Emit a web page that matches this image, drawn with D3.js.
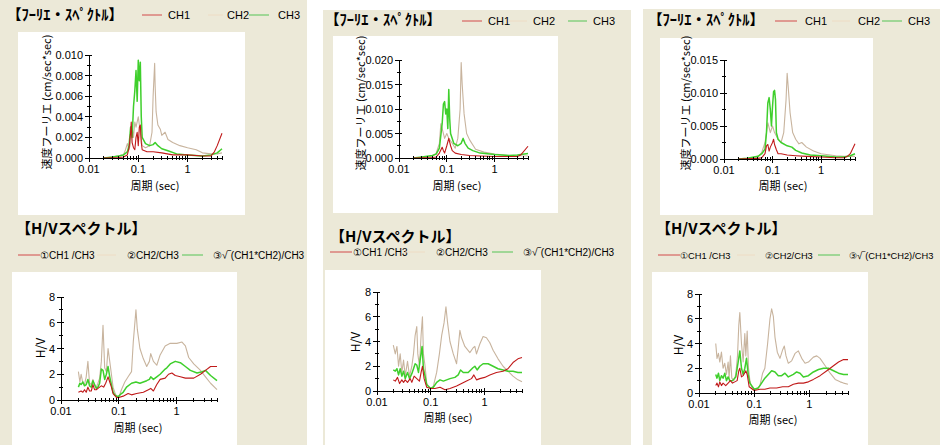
<!DOCTYPE html>
<html><head><meta charset="utf-8">
<script src="https://cdn.jsdelivr.net/npm/d3@7"></script>
<style>body{margin:0;background:#fff;} svg{display:block;}</style>
</head><body><svg id="c" width="940" height="445"></svg>
<script>
// ---------------- DATA ----------------
const periodTickValues = [0.01, 0.1, 1];
const periodTickLabels = ["0.01", "0.1", "1"];
const fourierLegend = ["CH1", "CH2", "CH3"];
const hvLegend = ["\u2460CH1 /CH3", "\u2461CH2/CH3", "\u2462\u221A\u203E(CH1*CH2)/CH3"];
const fourierYTicks1 = [0, 0.002, 0.004, 0.006, 0.008, 0.010];
const fourierYTicks2 = [0, 0.005, 0.010, 0.015, 0.020];
const fourierYTicks3 = [0, 0.005, 0.010, 0.015];
const hvYTicks = [0, 2, 4, 6, 8];

// Panel 1 Fourier spectra [period(sec), amplitude]
const f1_ch1 = [[0.02,0],[0.04,0.00005],[0.05,0.0001],[0.06,0.0003],[0.065,0.001],[0.07,0.0025],[0.072,0.0035],[0.075,0.0015],[0.08,0.001],[0.085,0.0008],[0.09,0.002],[0.095,0.0025],[0.1,0.0012],[0.105,0.003],[0.11,0.0032],[0.115,0.0015],[0.12,0.0008],[0.15,0.0006],[0.2,0.0006],[0.3,0.0005],[0.5,0.0003],[1,0.0003],[2,0.0002],[3,0.0002],[3.5,0.0006],[4,0.0012],[5,0.0024]];
const f1_ch2 = [[0.02,0],[0.03,0.0001],[0.05,0.0003],[0.055,0.0008],[0.06,0.0014],[0.065,0.0008],[0.07,0.0015],[0.075,0.003],[0.08,0.002],[0.085,0.0035],[0.09,0.003],[0.1,0.004],[0.11,0.0025],[0.12,0.0012],[0.14,0.001],[0.17,0.0012],[0.19,0.0025],[0.2,0.006],[0.215,0.0092],[0.22,0.007],[0.23,0.0045],[0.25,0.0032],[0.28,0.0028],[0.3,0.0022],[0.35,0.0025],[0.4,0.0018],[0.5,0.0015],[0.7,0.0012],[1,0.001],[1.5,0.0008],[2,0.0005],[3,0.0004],[4,0.0004],[5,0.0005]];
const f1_ch3 = [[0.02,0],[0.03,0.0001],[0.04,0.0002],[0.05,0.0003],[0.06,0.0006],[0.065,0.0012],[0.07,0.003],[0.075,0.002],[0.08,0.005],[0.085,0.0065],[0.09,0.0085],[0.095,0.0055],[0.1,0.0095],[0.105,0.0075],[0.11,0.0093],[0.115,0.004],[0.12,0.002],[0.14,0.0014],[0.17,0.0012],[0.2,0.0013],[0.22,0.0015],[0.25,0.0012],[0.3,0.0009],[0.4,0.0007],[0.6,0.0004],[1,0.0003],[2,0.0002],[3,0.0003],[4,0.0005],[5,0.0009]];

// Panel 2 Fourier spectra
const f2_ch1 = [[0.02,0],[0.05,0.0001],[0.06,0.0002],[0.07,0.001],[0.08,0.0022],[0.085,0.0015],[0.09,0.001],[0.1,0.0025],[0.11,0.004],[0.12,0.0025],[0.13,0.0015],[0.15,0.001],[0.2,0.0007],[0.3,0.0005],[0.5,0.0004],[1,0.0003],[2,0.0003],[3,0.0003],[3.5,0.0006],[5,0.0024]];
const f2_ch2 = [[0.02,0],[0.04,0.0002],[0.05,0.0004],[0.06,0.001],[0.07,0.003],[0.075,0.007],[0.08,0.006],[0.09,0.004],[0.1,0.005],[0.11,0.004],[0.13,0.003],[0.15,0.002],[0.17,0.004],[0.19,0.01],[0.2,0.0195],[0.21,0.015],[0.23,0.009],[0.26,0.005],[0.3,0.0037],[0.4,0.0018],[0.6,0.0012],[1,0.0008],[2,0.0005],[5,0.0004]];
const f2_ch3 = [[0.02,0],[0.03,0.0002],[0.05,0.0005],[0.06,0.0008],[0.07,0.002],[0.08,0.007],[0.085,0.011],[0.09,0.0115],[0.095,0.009],[0.1,0.01],[0.105,0.006],[0.11,0.014],[0.115,0.008],[0.12,0.005],[0.14,0.003],[0.17,0.0025],[0.2,0.003],[0.22,0.004],[0.24,0.003],[0.28,0.002],[0.35,0.0015],[0.5,0.001],[1,0.0007],[2,0.0005],[3,0.0006],[5,0.0009]];

// Panel 3 Fourier spectra
const f3_ch1 = [[0.02,0],[0.05,0.0001],[0.06,0.0002],[0.07,0.0008],[0.075,0.002],[0.08,0.0022],[0.085,0.0012],[0.09,0.0018],[0.1,0.0025],[0.105,0.003],[0.11,0.0022],[0.12,0.0014],[0.13,0.0008],[0.15,0.0008],[0.2,0.0006],[0.3,0.0005],[0.5,0.0004],[1,0.0003],[2,0.0002],[3,0.0002],[3.5,0.0004],[4,0.0008],[5,0.0023]];
const f3_ch2 = [[0.02,0],[0.04,0.0001],[0.05,0.0003],[0.06,0.001],[0.07,0.0025],[0.075,0.004],[0.08,0.0055],[0.09,0.004],[0.1,0.005],[0.11,0.004],[0.13,0.003],[0.15,0.0025],[0.17,0.004],[0.19,0.009],[0.2,0.013],[0.21,0.011],[0.23,0.007],[0.26,0.004],[0.3,0.003],[0.35,0.0023],[0.4,0.0025],[0.5,0.0018],[0.7,0.0012],[1,0.0008],[2,0.0005],[3,0.0004],[5,0.0004]];
const f3_ch3 = [[0.02,0],[0.03,0.0001],[0.05,0.0004],[0.06,0.0008],[0.07,0.0015],[0.075,0.004],[0.08,0.0085],[0.085,0.0093],[0.09,0.0075],[0.095,0.005],[0.1,0.008],[0.105,0.0102],[0.11,0.0104],[0.115,0.009],[0.12,0.004],[0.13,0.003],[0.15,0.0025],[0.2,0.002],[0.25,0.0018],[0.3,0.0013],[0.4,0.0009],[0.6,0.0006],[1,0.0005],[2,0.0003],[3,0.0003],[4,0.0005],[5,0.0008]];

// Panel 1 H/V spectra
const hv1_r1 = [[0.020,0.6],[0.0223,0.7],[0.0239,0.6],[0.0255,0.8],[0.0273,0.6],[0.0292,1.0],[0.0312,0.7],[0.0334,0.7],[0.0357,1.2],[0.0381,0.8],[0.0408,0.8],[0.0436,0.9],[0.0466,1.0],[0.0499,1.1],[0.0547,1.0],[0.0593,1.3],[0.0652,1.8],[0.0697,1.4],[0.0745,1.0],[0.0796,0.5],[0.091,0.2],[0.1,0.2],[0.119,0.3],[0.145,0.5],[0.166,0.4],[0.203,0.5],[0.266,0.6],[0.325,0.8],[0.357,0.9],[0.397,0.7],[0.454,1.2],[0.519,1.6],[0.634,1.7],[0.725,2.0],[0.829,2.1],[0.948,1.9],[1.16,1.8],[1.42,1.7],[1.98,1.7],[2.59,2.0],[3.16,2.3],[3.87,2.6],[5.0,2.6]];
const hv1_r2 = [[0.020,2.2],[0.0212,1.4],[0.0223,2.0],[0.0239,1.3],[0.0255,1.2],[0.0273,1.8],[0.0292,3.0],[0.0312,1.3],[0.0334,1.2],[0.0357,1.6],[0.0381,1.1],[0.0408,1.0],[0.0436,1.3],[0.0466,1.7],[0.0499,3.0],[0.0533,5.8],[0.057,2.5],[0.0609,2.2],[0.0652,4.0],[0.0697,3.0],[0.0745,2.0],[0.0796,1.0],[0.0851,0.6],[0.091,0.3],[0.1,0.2],[0.111,0.8],[0.127,1.4],[0.145,1.8],[0.166,2.2],[0.178,4.5],[0.198,7.0],[0.209,5.5],[0.232,4.0],[0.266,3.2],[0.304,2.6],[0.338,3.0],[0.357,3.6],[0.397,3.0],[0.454,2.7],[0.519,3.5],[0.634,4.2],[0.776,4.4],[1.01,4.4],[1.24,4.5],[1.42,4.2],[1.62,3.3],[1.98,2.8],[2.59,2.3],[3.16,1.8],[3.87,1.3],[5.0,0.8]];
const hv1_r3 = [[0.020,1.0],[0.0212,1.3],[0.0223,1.2],[0.0239,1.4],[0.0255,1.1],[0.0273,1.2],[0.0292,1.6],[0.0312,1.1],[0.0334,1.0],[0.0357,1.5],[0.0381,1.2],[0.0408,0.9],[0.0436,1.0],[0.0466,1.3],[0.0499,2.4],[0.0533,2.3],[0.057,1.6],[0.0609,2.0],[0.0652,2.6],[0.0697,1.8],[0.0745,1.2],[0.0796,0.6],[0.0851,0.4],[0.091,0.3],[0.1,0.3],[0.111,0.5],[0.119,0.6],[0.136,1.0],[0.166,1.3],[0.198,1.4],[0.232,1.3],[0.266,1.4],[0.304,1.5],[0.338,1.6],[0.357,1.8],[0.397,1.6],[0.454,1.8],[0.519,2.0],[0.634,2.4],[0.678,2.5],[0.776,2.8],[0.948,3.0],[1.16,2.9],[1.42,2.6],[1.73,2.3],[2.26,2.1],[2.77,2.2],[3.16,2.3],[3.87,1.9],[5.0,1.5]];

// Panel 2 H/V spectra
const hv2_r1 = [[0.0201,0.9],[0.0219,0.8],[0.0241,1.1],[0.0263,0.6],[0.029,0.9],[0.0312,0.7],[0.0335,0.9],[0.037,0.7],[0.0414,1.0],[0.0445,0.7],[0.0491,1.2],[0.055,1.0],[0.0617,0.8],[0.0662,1.5],[0.0701,2.0],[0.0753,1.0],[0.0843,0.3],[0.1,0.2],[0.12,0.2],[0.149,0.3],[0.184,0.1],[0.228,0.2],[0.303,0.4],[0.375,0.6],[0.464,0.8],[0.574,1.0],[0.635,1.3],[0.711,0.9],[0.82,1.0],[1.01,1.1],[1.26,1.3],[1.67,1.5],[2.22,1.6],[2.74,1.8],[3.4,2.3],[4.2,2.6],[5.0,2.7]];
const hv2_r2 = [[0.0201,3.7],[0.0219,3.0],[0.0235,3.6],[0.0252,2.0],[0.027,3.0],[0.029,1.5],[0.0312,2.5],[0.0335,1.2],[0.037,2.4],[0.0403,1.2],[0.0445,2.0],[0.0478,3.0],[0.0513,4.5],[0.055,5.2],[0.0575,3.0],[0.0617,2.0],[0.0662,4.5],[0.0701,6.0],[0.0732,3.0],[0.0785,2.0],[0.0843,0.6],[0.0905,0.4],[0.1,0.2],[0.112,0.4],[0.129,1.5],[0.145,3.0],[0.16,4.5],[0.177,5.5],[0.192,6.8],[0.206,5.5],[0.228,4.0],[0.263,3.0],[0.303,2.2],[0.325,3.5],[0.349,4.9],[0.375,4.3],[0.432,3.6],[0.535,3.1],[0.617,3.5],[0.662,3.6],[0.711,3.0],[0.82,3.8],[0.944,4.4],[1.09,4.3],[1.26,3.9],[1.45,3.3],[1.79,2.6],[2.22,2.0],[2.74,1.6],[3.4,1.2],[4.2,0.9],[5.0,0.75]];
const hv2_r3 = [[0.0201,1.7],[0.0219,1.6],[0.0235,1.8],[0.0252,1.3],[0.027,1.8],[0.029,1.2],[0.0312,1.6],[0.0335,1.0],[0.037,1.5],[0.0403,1.0],[0.0445,1.4],[0.0478,1.8],[0.0513,2.2],[0.055,2.1],[0.0591,1.5],[0.0635,2.5],[0.0691,3.6],[0.0732,1.8],[0.0785,1.2],[0.0843,0.5],[0.1,0.2],[0.112,0.3],[0.129,0.7],[0.149,0.9],[0.172,0.8],[0.198,0.9],[0.228,1.0],[0.282,1.1],[0.325,1.3],[0.359,1.7],[0.403,1.5],[0.498,1.5],[0.617,1.9],[0.662,2.0],[0.731,1.7],[0.82,2.0],[0.944,2.2],[1.17,2.2],[1.45,2.0],[1.79,1.8],[2.22,1.7],[2.74,1.6],[3.4,1.6],[4.2,1.5],[5.0,1.5]];

// Panel 3 H/V spectra
const hv3_r1 = [[0.0201,0.6],[0.0212,0.8],[0.0225,0.5],[0.0238,0.9],[0.0255,0.6],[0.0273,0.8],[0.0305,0.6],[0.0337,0.8],[0.0371,1.0],[0.0404,0.8],[0.0445,0.9],[0.0491,1.0],[0.0526,1.8],[0.0549,2.0],[0.0588,1.3],[0.0631,1.4],[0.0705,1.8],[0.0746,1.5],[0.0811,0.5],[0.1,0.2],[0.127,0.3],[0.156,0.3],[0.193,0.4],[0.255,0.4],[0.328,0.5],[0.415,0.5],[0.512,0.7],[0.631,0.8],[0.778,0.8],[0.959,0.9],[1.18,1.1],[1.56,1.4],[2.07,1.8],[2.73,2.2],[3.37,2.5],[4.15,2.7],[5.0,2.7]];
const hv3_r2 = [[0.0201,4.0],[0.0212,2.8],[0.0225,3.2],[0.0238,2.5],[0.0255,3.3],[0.0273,2.0],[0.0293,2.4],[0.0314,1.5],[0.0337,2.5],[0.0351,1.2],[0.0371,3.0],[0.0393,1.2],[0.0427,1.0],[0.0464,1.5],[0.0498,3.0],[0.0526,5.5],[0.0549,6.5],[0.0588,4.0],[0.0631,2.5],[0.0676,4.8],[0.0705,3.0],[0.0746,5.0],[0.0789,2.0],[0.0834,1.0],[0.0894,0.5],[0.1,0.3],[0.11,0.3],[0.127,0.6],[0.142,1.6],[0.156,2.0],[0.175,4.0],[0.193,6.0],[0.207,6.8],[0.222,6.2],[0.238,4.5],[0.262,3.3],[0.293,2.8],[0.328,3.5],[0.351,3.8],[0.377,3.0],[0.415,2.4],[0.477,2.6],[0.549,3.2],[0.631,3.4],[0.726,2.8],[0.834,2.4],[0.959,2.5],[1.18,2.9],[1.36,3.0],[1.56,2.8],[1.93,2.2],[2.38,1.6],[2.93,1.1],[3.61,0.9],[4.15,0.8],[5.0,0.7]];
const hv3_r3 = [[0.0201,1.5],[0.0212,1.2],[0.0225,1.6],[0.0238,1.0],[0.0255,1.4],[0.0273,1.2],[0.0293,1.6],[0.0314,1.0],[0.0337,1.3],[0.0361,1.0],[0.0404,1.0],[0.0464,1.3],[0.0512,2.5],[0.0549,3.4],[0.0588,2.0],[0.0631,1.5],[0.0676,2.0],[0.0725,2.8],[0.0778,1.5],[0.0834,0.8],[0.1,0.3],[0.118,0.4],[0.136,0.8],[0.156,1.2],[0.18,1.5],[0.207,1.8],[0.238,1.7],[0.273,1.4],[0.314,1.4],[0.361,1.6],[0.415,1.3],[0.512,1.5],[0.588,1.7],[0.676,1.6],[0.778,1.3],[0.959,1.4],[1.18,1.7],[1.46,1.9],[1.8,2.0],[2.21,2.0],[2.73,1.8],[3.37,1.6],[4.15,1.5],[5.0,1.5]];

// ---------------- STYLE / LAYOUT ----------------
const COL = {red:"#c01a1a", tan:"#c8b49e", green:"#3fcf2c"};
const LEG = {red:"#d24a4a", tan:"#eedcc4", green:"#55c455"};
const BG = "#ECE9D8";
const JP = "'Noto Sans CJK JP', sans-serif";
const LAT = "'Liberation Sans', Arial, sans-serif";

const panels = [
  {bg:[0,0,307,445],
   head:{x:7,y:20}, leg:{y:15, lines:[[142,162],[208,223],[249,269]], texts:[168,227,278]},
   f:{box:[18,32,245,215], xr:[89,222], yr:[158,55], ymax:0.010, ticks:fourierYTicks1, minor:0.001, data:[f1_ch2,f1_ch3,f1_ch1], yt:[48,102], xt:[155,190]},
   hvHead:{x:16,y:234}, hvLeg:{y:255, fs:10, lines:[[18,40],[97,116],[182,203]], texts:[40,127,213]},
   hv:{box:[12,272,237,445], xr:[61,217], yr:[400,297], data:[hv1_r2,hv1_r3,hv1_r1], yt:[42,348], xt:[138,432]}},
  {bg:[323,10,631,445],
   head:{x:325,y:25}, leg:{y:21, lines:[[462,482],[508,527],[568,587]], texts:[488,533,593]},
   f:{box:[333,36,558,213], xr:[399,528], yr:[158,60], ymax:0.020, ticks:fourierYTicks2, minor:0.0025, data:[f2_ch2,f2_ch3,f2_ch1], yt:[362,103], xt:[457,190]},
   hvHead:{x:330,y:242}, hvLeg:{y:252, fs:10, lines:[[330,352],[405,425],[492,513]], texts:[353,436,523]},
   hv:{box:[325,270,541,445], xr:[377,522], yr:[391,292], data:[hv2_r2,hv2_r3,hv2_r1], yt:[357,342], xt:[448,422]}},
  {bg:[643,9,940,445],
   head:{x:648,y:25}, leg:{y:21, lines:[[775,797],[832,850],[882,902]], texts:[805,858,908]},
   f:{box:[660,38,873,215], xr:[724,855], yr:[159,60], ymax:0.015, ticks:fourierYTicks3, minor:0.0025, data:[f3_ch2,f3_ch3,f3_ch1], yt:[687,103], xt:[783,190]},
   hvHead:{x:656,y:234}, hvLeg:{y:255, fs:9.3, lines:[[658,680],[737,755],[818,840]], texts:[680,765,849]},
   hv:{box:[652,272,868,445], xr:[699,848], yr:[393,294], data:[hv3_r2,hv3_r3,hv3_r1], yt:[680,345], xt:[773,424]}}
];
const lineCols = [COL.tan, COL.green, COL.red];
const legCols = [LEG.red, LEG.tan, LEG.green];

const svg = d3.select("#c");

function minorPeriods(){
  const out=[];
  [0.01,0.1,1].forEach(d=>{for(let k=2;k<=9;k++){const v=+(k*d).toPrecision(3); if(v<=5.0001) out.push(v);}});
  return out;
}

function drawChart(g, c, yTicks, yMinor, yMax, yFmt, yTitle, yTitleSize){
  const [bx0,by0,bx1,by1]=c.box;
  g.append("rect").attr("x",bx0).attr("y",by0).attr("width",bx1-bx0).attr("height",by1-by0).attr("fill","#fff");
  const x=d3.scaleLog().domain([0.01,5]).range(c.xr);
  const y=d3.scaleLinear().domain([0,yMax]).range(c.yr);
  const line=d3.line().x(d=>x(d[0])).y(d=>y(d[1]));
  c.data.forEach((s,i)=>{
    g.append("path").datum(s).attr("d",line).attr("fill","none")
     .attr("stroke",lineCols[i]).attr("stroke-width", i===1?1.5:1.1).attr("stroke-linejoin","round");
  });
  const ax=g.append("g").attr("stroke","#000").attr("stroke-width",1).attr("shape-rendering","crispEdges");
  const x0=x(0.01), y0=y(0);
  ax.append("line").attr("x1",x0).attr("x2",x0).attr("y1",y0).attr("y2",y(yMax));
  ax.append("line").attr("x1",x0).attr("x2",x(5)).attr("y1",y0).attr("y2",y0);
  yMinor.forEach(v=>ax.append("line").attr("x1",x0-2).attr("x2",x0+2).attr("y1",y(v)).attr("y2",y(v)));
  yTicks.forEach(v=>ax.append("line").attr("x1",x0-4).attr("x2",x0+3).attr("y1",y(v)).attr("y2",y(v)));
  minorPeriods().forEach(v=>ax.append("line").attr("x1",x(v)).attr("x2",x(v)).attr("y1",y0-2).attr("y2",y0+2));
  periodTickValues.forEach(v=>ax.append("line").attr("x1",x(v)).attr("x2",x(v)).attr("y1",y0-3).attr("y2",y0+4));
  const lab=g.append("g").attr("font-family",LAT).attr("font-size",11).attr("fill","#000");
  yTicks.forEach(v=>lab.append("text").attr("x",x0-6).attr("y",y(v)+4).attr("text-anchor","end").text(yFmt(v)));
  periodTickValues.forEach((v,i)=>lab.append("text").attr("x",x(v)).attr("y",y0+15).attr("text-anchor","middle").text(periodTickLabels[i]));
  g.append("text").attr("x",c.xt[0]).attr("y",c.xt[1]).attr("text-anchor","middle").attr("font-family",JP).attr("font-size",11).text("周期 (sec)");
  g.append("text").attr("transform",`translate(${c.yt[0]},${c.yt[1]}) rotate(-90)`).attr("text-anchor","middle")
   .attr("dominant-baseline","middle").attr("font-family",JP).attr("font-size",yTitleSize).text(yTitle);
}

panels.forEach(p=>{
  const g=svg.append("g");
  const [a,b,c2,d]=p.bg;
  g.append("rect").attr("x",a).attr("y",b).attr("width",c2-a).attr("height",d-b).attr("fill",BG);
  // Fourier header + legend
  g.append("text").attr("x",p.head.x).attr("y",p.head.y).attr("font-family",JP).attr("font-weight","bold").attr("font-size",14.5).text("【ﾌｰﾘｴ・ｽﾍﾟｸﾄﾙ】");
  p.leg.lines.forEach((l,i)=>{
    g.append("line").attr("x1",l[0]).attr("x2",l[1]).attr("y1",p.leg.y).attr("y2",p.leg.y).attr("stroke",legCols[i]).attr("stroke-width",1);
    g.append("text").attr("x",p.leg.texts[i]).attr("y",p.leg.y+4).attr("font-family",LAT).attr("font-size",11).text(fourierLegend[i]);
  });
  const mf=[]; for(let v=0; v<=p.f.ymax+1e-9; v+=p.f.minor) mf.push(+v.toFixed(5));
  drawChart(g, p.f, p.f.ticks, mf, p.f.ymax, d3.format(".3f"), "速度フーリエ (cm/sec*sec)", 11);
  // H/V header + legend
  g.append("text").attr("x",p.hvHead.x).attr("y",p.hvHead.y).attr("font-family",JP).attr("font-weight","bold").attr("font-size",15).text("【H/Vスペクトル】");
  p.hvLeg.lines.forEach((l,i)=>{
    g.append("line").attr("x1",l[0]).attr("x2",l[1]).attr("y1",p.hvLeg.y).attr("y2",p.hvLeg.y).attr("stroke",legCols[i]).attr("stroke-width",1);
    g.append("text").attr("x",p.hvLeg.texts[i]).attr("y",p.hvLeg.y+3.5).attr("font-family",LAT).attr("font-size",p.hvLeg.fs).text(hvLegend[i]);
  });
  drawChart(g, p.hv, hvYTicks, [1,3,5,7], 8, d3.format("d"), "H/V", 12);
});
</script></body></html>
